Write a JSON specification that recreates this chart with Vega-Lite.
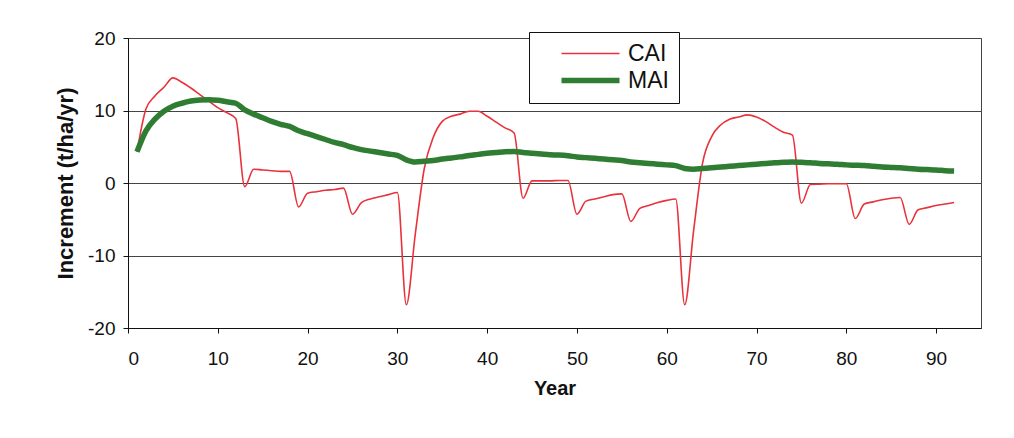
{
  "$schema": "https://vega.github.io/schema/vega-lite/v6.json",
  "width": 853,
  "height": 290,
  "autosize": {"type": "none"},
  "padding": {"left": 128, "top": 38, "right": 33, "bottom": 110},
  "background": "white",
  "data": {"values": [
    {"Year":1,"CAI":4.3,"MAI":4.3},{"Year":2,"CAI":10.2,"MAI":7.2},{"Year":3,"CAI":12.0,"MAI":8.8},{"Year":4,"CAI":13.2,"MAI":9.9},
    {"Year":5,"CAI":14.5,"MAI":10.6},{"Year":6,"CAI":13.9,"MAI":11.0},{"Year":7,"CAI":13.1,"MAI":11.3},{"Year":8,"CAI":12.2,"MAI":11.45},
    {"Year":9,"CAI":11.3,"MAI":11.5},{"Year":10,"CAI":10.4,"MAI":11.4},{"Year":11,"CAI":9.7,"MAI":11.2},{"Year":12,"CAI":8.9,"MAI":11.0},
    {"Year":13,"CAI":-0.5,"MAI":10.1},{"Year":14,"CAI":1.9,"MAI":9.5},{"Year":15,"CAI":1.8,"MAI":9.0},{"Year":16,"CAI":1.7,"MAI":8.5},
    {"Year":17,"CAI":1.6,"MAI":8.1},{"Year":18,"CAI":1.6,"MAI":7.8},{"Year":19,"CAI":-3.3,"MAI":7.2},{"Year":20,"CAI":-1.4,"MAI":6.8},
    {"Year":21,"CAI":-1.2,"MAI":6.4},{"Year":22,"CAI":-1.0,"MAI":6.0},{"Year":23,"CAI":-0.9,"MAI":5.6},{"Year":24,"CAI":-0.7,"MAI":5.3},
    {"Year":25,"CAI":-4.3,"MAI":4.9},{"Year":26,"CAI":-2.7,"MAI":4.6},{"Year":27,"CAI":-2.2,"MAI":4.4},{"Year":28,"CAI":-1.9,"MAI":4.2},
    {"Year":29,"CAI":-1.6,"MAI":4.0},{"Year":30,"CAI":-1.3,"MAI":3.8},{"Year":31,"CAI":-16.8,"MAI":3.2},{"Year":32,"CAI":-7.0,"MAI":2.9},
    {"Year":33,"CAI":2.0,"MAI":3.0},{"Year":34,"CAI":6.3,"MAI":3.1},{"Year":35,"CAI":8.5,"MAI":3.3},{"Year":36,"CAI":9.2,"MAI":3.45},
    {"Year":37,"CAI":9.5,"MAI":3.6},{"Year":38,"CAI":9.9,"MAI":3.8},{"Year":39,"CAI":9.9,"MAI":3.95},{"Year":40,"CAI":9.2,"MAI":4.1},
    {"Year":41,"CAI":8.4,"MAI":4.2},{"Year":42,"CAI":7.6,"MAI":4.3},{"Year":43,"CAI":6.9,"MAI":4.35},{"Year":44,"CAI":-2.1,"MAI":4.2},
    {"Year":45,"CAI":0.3,"MAI":4.1},{"Year":46,"CAI":0.3,"MAI":4.0},{"Year":47,"CAI":0.3,"MAI":3.9},{"Year":48,"CAI":0.35,"MAI":3.85},
    {"Year":49,"CAI":0.35,"MAI":3.75},{"Year":50,"CAI":-4.3,"MAI":3.6},{"Year":51,"CAI":-2.5,"MAI":3.5},{"Year":52,"CAI":-2.2,"MAI":3.4},
    {"Year":53,"CAI":-1.9,"MAI":3.3},{"Year":54,"CAI":-1.6,"MAI":3.2},{"Year":55,"CAI":-1.5,"MAI":3.1},{"Year":56,"CAI":-5.3,"MAI":2.9},
    {"Year":57,"CAI":-3.5,"MAI":2.8},{"Year":58,"CAI":-3.1,"MAI":2.7},{"Year":59,"CAI":-2.7,"MAI":2.6},{"Year":60,"CAI":-2.4,"MAI":2.5},
    {"Year":61,"CAI":-2.2,"MAI":2.4},{"Year":62,"CAI":-16.8,"MAI":2.0},{"Year":63,"CAI":-6.5,"MAI":1.9},{"Year":64,"CAI":2.8,"MAI":2.0},
    {"Year":65,"CAI":6.4,"MAI":2.1},{"Year":66,"CAI":8.0,"MAI":2.2},{"Year":67,"CAI":8.8,"MAI":2.3},{"Year":68,"CAI":9.1,"MAI":2.4},
    {"Year":69,"CAI":9.4,"MAI":2.5},{"Year":70,"CAI":9.1,"MAI":2.6},{"Year":71,"CAI":8.5,"MAI":2.7},{"Year":72,"CAI":7.7,"MAI":2.8},
    {"Year":73,"CAI":7.0,"MAI":2.85},{"Year":74,"CAI":6.6,"MAI":2.9},{"Year":75,"CAI":-2.8,"MAI":2.85},{"Year":76,"CAI":-0.2,"MAI":2.8},
    {"Year":77,"CAI":-0.15,"MAI":2.7},{"Year":78,"CAI":-0.1,"MAI":2.65},{"Year":79,"CAI":-0.1,"MAI":2.6},{"Year":80,"CAI":-0.1,"MAI":2.5},
    {"Year":81,"CAI":-4.9,"MAI":2.45},{"Year":82,"CAI":-2.9,"MAI":2.4},{"Year":83,"CAI":-2.6,"MAI":2.3},{"Year":84,"CAI":-2.3,"MAI":2.2},
    {"Year":85,"CAI":-2.1,"MAI":2.15},{"Year":86,"CAI":-2.0,"MAI":2.1},{"Year":87,"CAI":-5.7,"MAI":2.0},{"Year":88,"CAI":-3.7,"MAI":1.9},
    {"Year":89,"CAI":-3.4,"MAI":1.85},{"Year":90,"CAI":-3.1,"MAI":1.8},{"Year":91,"CAI":-2.9,"MAI":1.7},{"Year":92,"CAI":-2.7,"MAI":1.65}
  ]},
  "transform": [{"fold": ["CAI", "MAI"], "as": ["series", "value"]}],
  "mark": {"type": "line", "interpolate": "monotone"},
  "encoding": {
    "x": {
      "field": "Year", "type": "quantitative",
      "scale": {"domain": [0, 95], "nice": false, "zero": false},
      "axis": {"values": [0, 10, 20, 30, 40, 50, 60, 70, 80, 90], "title": "Year", "grid": false,
               "labelPadding": 16, "titlePadding": 10}
    },
    "y": {
      "field": "value", "type": "quantitative",
      "scale": {"domain": [-20, 20], "nice": false},
      "axis": {"values": [-20, -10, 0, 10, 20], "title": "Increment (t/ha/yr)", "grid": true,
               "labelExpr": "toString(datum.value)",
               "labelPadding": 8, "titlePadding": 10, "titleFontSize": 22}
    },
    "color": {
      "field": "series", "type": "nominal",
      "scale": {"domain": ["CAI", "MAI"], "range": ["#e8323c", "#2f7d32"]},
      "legend": {
        "orient": "none", "legendX": 401, "legendY": -6, "title": null,
        "symbolType": "stroke", "symbolSize": 3364, "symbolOffset": 40,
        "labelFontSize": 23, "labelFont": "Liberation Sans", "labelColor": "#111",
        "labelOffset": 26, "rowPadding": 3, "padding": 10,
        "strokeColor": "#111", "fillColor": "white",
        "encode": {"symbols": {"update": {"strokeWidth": {"signal": "datum.value === 'MAI' ? 5.5 : 1.6"}}}}
      }
    },
    "strokeWidth": {"condition": {"test": "datum.series === 'MAI'", "value": 5.5}, "value": 1.6}
  },
  "config": {
    "font": "Liberation Sans",
    "view": {"stroke": "#444", "strokeWidth": 1},
    "axis": {
      "labelFontSize": 19, "labelColor": "#111", "titleFontSize": 20, "titleFontWeight": "bold",
      "titleColor": "#111", "domainColor": "#111", "tickColor": "#111", "tickSize": 5,
      "gridColor": "#444", "gridWidth": 1, "gridOpacity": 1, "labelFont": "Liberation Sans", "titleFont": "Liberation Sans"
    }
  }
}
